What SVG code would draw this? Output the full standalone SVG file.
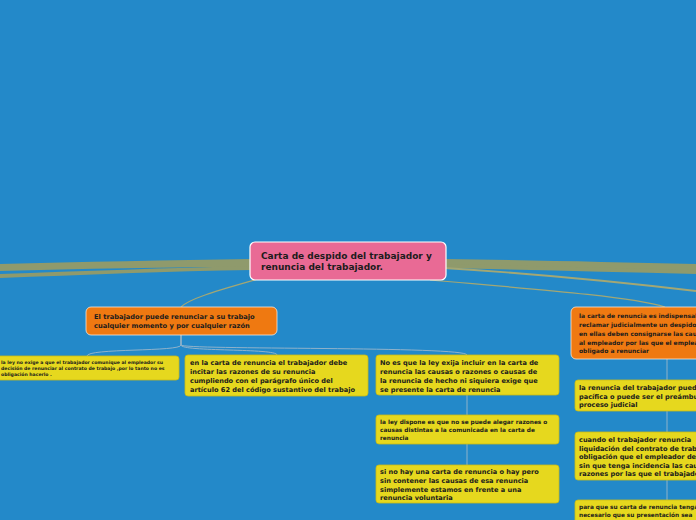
<svg xmlns="http://www.w3.org/2000/svg" width="696" height="520" viewBox="0 0 696 520">
<style>
text{font-family:"DejaVu Sans","Liberation Sans",sans-serif;font-weight:bold;fill:#1c1c1c}
.y{fill:#e6d81e;stroke:#c9bb14;stroke-width:0.8}
.o{fill:#ef7911;stroke:#f6e6d6;stroke-width:0.8}
.band{fill:#8f9a6c}
.lo{fill:none;stroke:#a3a774;stroke-width:1.2}
.lb{fill:none;stroke:#8fb2c9;stroke-width:1}
</style>
<rect width="696" height="520" fill="#2389c9"/>
<g id="connectors">
<path class="band" d="M252,259 C170,260 80,262 0,264 L0,271 C80,269 170,267 252,267 Z"/>
<path class="band" d="M252,266 C170,268 80,271 0,274 L0,278 C80,275 170,271 252,270 Z"/>
<path class="band" d="M444,259 C530,260 610,262 696,264 L696,271 C610,269 530,267 444,267 Z"/>
<path class="band" d="M444,264 C530,266 610,268 696,270 L696,274 C610,272 530,270 444,268 Z"/>
<path class="lo" style="stroke-width:1.8" d="M444,268 C540,274 620,282 696,291"/>
<path class="lo" d="M258,279 C220,290 190,298 181,307"/>
<path class="lo" d="M430,280 C520,288 630,296 665,307"/>
<path class="lb" d="M181,335 L181,345 C181,352 87,348 87,356"/>
<path class="lb" d="M181,335 L181,345 C181,352 277,348 277,355"/>
<path class="lb" d="M181,335 L181,345 C181,350 467,346 467,355"/>
<path class="lb" d="M467,395 L467,415"/>
<path class="lb" d="M467,444 L467,465"/>
<path class="lb" d="M667,359 L667,380"/>
<path class="lb" d="M667,411 L667,432"/>
<path class="lb" d="M667,480 L667,500"/>
</g>
<g id="center">
<rect x="250" y="242" width="196" height="38" rx="5" fill="#e96a95" stroke="#ffffff" stroke-width="1.2"/>
<text x="261" y="259" font-size="9">Carta de despido del trabajador y</text>
<text x="261" y="270" font-size="9">renuncia del trabajador.</text>
</g>
<g id="left-orange">
<rect class="o" x="86" y="307" width="191" height="28" rx="5"/>
<text x="94" y="319" font-size="6.7">El trabajador puede renunciar a su trabajo</text>
<text x="94" y="328" font-size="6.7">cualquier momento y por cualquier razón</text>
</g>
<g id="node-a">
<rect class="y" x="-10" y="356" width="189" height="24" rx="3"/>
<text x="1" y="364" font-size="4.6">la ley no exige a que el trabajador comunique al empleador su</text>
<text x="1" y="370" font-size="4.6">decisión de renunciar al contrato de trabajo ,por lo tanto no es</text>
<text x="1" y="376" font-size="4.6">obligación hacerlo .</text>
</g>
<g id="node-b">
<rect class="y" x="185" y="355" width="183" height="41" rx="3"/>
<text x="190" y="365" font-size="6.6">en la carta de renuncia el trabajador debe</text>
<text x="190" y="374" font-size="6.6">incitar las razones de su renuncia</text>
<text x="190" y="383" font-size="6.6">cumpliendo con el parágrafo único del</text>
<text x="190" y="392" font-size="6.6">artículo 62 del código sustantivo del trabajo</text>
</g>
<g id="node-c">
<rect class="y" x="376" y="355" width="183" height="40" rx="3"/>
<text x="380" y="365" font-size="6.6">No es que la ley exija incluir en la carta de</text>
<text x="380" y="374" font-size="6.6">renuncia las causas o razones o causas de</text>
<text x="380" y="383" font-size="6.6">la renuncia de hecho ni siquiera exige que</text>
<text x="380" y="392" font-size="6.6">se presente la carta de renuncia</text>
</g>
<g id="node-d">
<rect class="y" x="376" y="415" width="183" height="29" rx="3"/>
<text x="380" y="424" font-size="5.8">la ley dispone es que no se puede alegar razones o</text>
<text x="380" y="432" font-size="5.8">causas distintas a la comunicada en la carta de</text>
<text x="380" y="440" font-size="5.8">renuncia</text>
</g>
<g id="node-e">
<rect class="y" x="376" y="465" width="183" height="38" rx="3"/>
<text x="380" y="474" font-size="6.6">si no hay una carta de renuncia o hay pero</text>
<text x="380" y="483" font-size="6.6">sin contener las causas de esa renuncia</text>
<text x="380" y="492" font-size="6.6">simplemente estamos en frente a una</text>
<text x="380" y="500" font-size="6.6">renuncia voluntaria</text>
</g>
<g id="right-orange">
<rect class="o" x="571" y="307" width="140" height="52" rx="5"/>
<text x="579" y="318" font-size="6">la carta de renuncia es indispensable</text>
<text x="579" y="327" font-size="6">reclamar judicialmente un despido</text>
<text x="579" y="336" font-size="6">en ellas deben consignarse las causas</text>
<text x="579" y="345" font-size="6">al empleador por las que el empleador</text>
<text x="579" y="353" font-size="6">obligado a renunciar</text>
</g>
<g id="right-1">
<rect class="y" x="575" y="380" width="140" height="31" rx="3"/>
<text x="579" y="390" font-size="6.6">la renuncia del trabajador puede</text>
<text x="579" y="399" font-size="6.6">pacífica o puede ser el preámbulo</text>
<text x="579" y="407" font-size="6.6">proceso judicial</text>
</g>
<g id="right-2">
<rect class="y" x="575" y="432" width="140" height="48" rx="3"/>
<text x="579" y="442" font-size="6.6">cuando el trabajador renuncia</text>
<text x="579" y="451" font-size="6.6">liquidación del contrato de trabajo</text>
<text x="579" y="459" font-size="6.6">obligación que el empleador debe</text>
<text x="579" y="468" font-size="6.6">sin que tenga incidencia las causas</text>
<text x="579" y="476" font-size="6.6">razones por las que el trabajador</text>
</g>
<g id="right-3">
<rect class="y" x="575" y="500" width="140" height="30" rx="3"/>
<text x="579" y="509" font-size="5.8">para que su carta de renuncia tenga</text>
<text x="579" y="517" font-size="5.8">necesario que su presentación sea</text>
</g>
</svg>
